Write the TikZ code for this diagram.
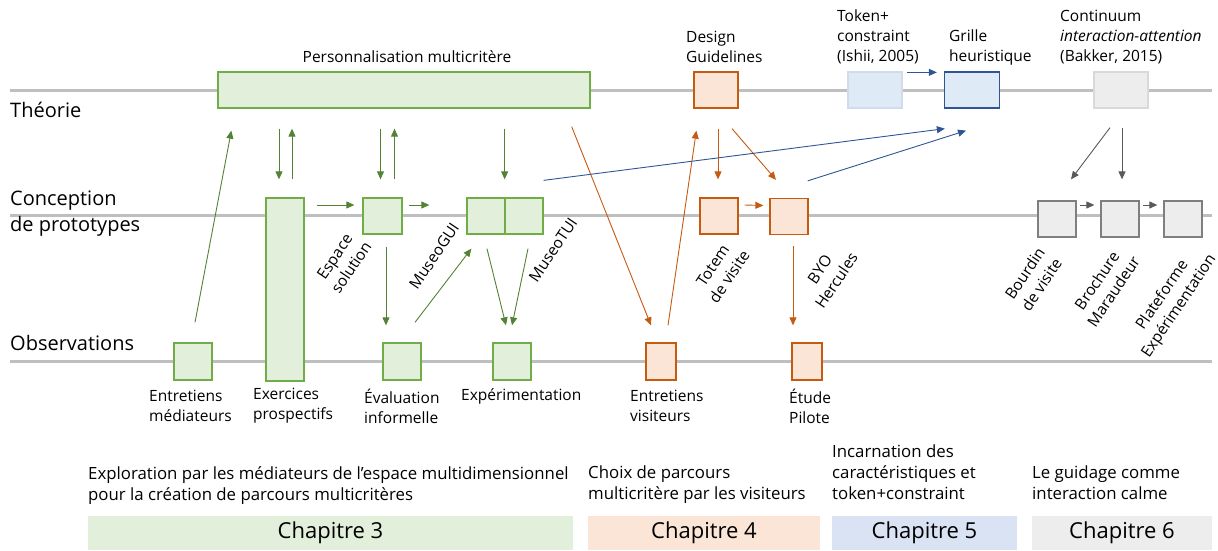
\documentclass[tikz,border=0pt]{standalone}
\usepackage{fontspec}
\setmainfont{Open Sans}
\usetikzlibrary{arrows.meta,calc}
\definecolor{lanegray}{HTML}{BFBFBF}
\definecolor{grnline}{HTML}{70AD47}
\definecolor{grnarr}{HTML}{548235}
\definecolor{grnfill}{HTML}{E2EFDA}
\definecolor{orgline}{HTML}{C55A11}
\definecolor{orgfill}{HTML}{FBE5D6}
\definecolor{bluline}{HTML}{2F5597}
\definecolor{blufill}{HTML}{DEEBF7}
\definecolor{bluchap}{HTML}{DAE3F3}
\definecolor{bluthin}{HTML}{D0DCEC}
\definecolor{gryline}{HTML}{7F7F7F}
\definecolor{gryarr}{HTML}{595959}
\definecolor{gryfill}{HTML}{EDEDED}
\definecolor{grythin}{HTML}{D9D9D9}
\tikzset{
	tbox/.style={draw, line width=1.3pt, minimum width=38pt, minimum height=36pt, inner sep=0pt},
	gbox/.style={tbox, draw=grnline, fill=grnfill},
	obox/.style={tbox, draw=orgline, fill=orgfill},
	bbox/.style={tbox, draw=bluline, fill=blufill},
	kbox/.style={tbox, draw=gryline, fill=gryfill},
	lab/.style={font=\fontsize{15.5}{20}\selectfont, inner sep=0pt, align=center},
	llab/.style={lab, align=left, anchor=west},
	rlab/.style={lab, rotate=56},
	dlab/.style={font=\fontsize{16.8}{21}\selectfont, inner sep=0pt, align=left, anchor=north west},
	lanelab/.style={font=\fontsize{20}{26}\selectfont, inner sep=0pt, align=left, anchor=west},
	chap/.style={font=\fontsize{22}{26}\selectfont, inner sep=0pt, minimum height=34pt},
	tip/.style={-{Triangle[length=8pt,width=7pt]}},
	garr/.style={tip, draw=grnarr, line width=0.9pt},
	oarr/.style={tip, draw=orgline, line width=0.9pt},
	barr/.style={tip, draw=bluline, line width=0.9pt},
	karr/.style={tip, draw=gryarr, line width=0.9pt},
}
\begin{document}
\begin{tikzpicture}[x=1pt, y=-1pt]
			%%%%% START %%%%%
			\useasboundingbox (0,0) rectangle (1218,550);
			
			% lanes
			\draw[lanegray, line width=3pt] (10,90) -- (1212,90);
			\draw[lanegray, line width=3pt] (10,215) -- (1212,215);
			\draw[lanegray, line width=3pt] (10,361) -- (1212,361);
			\node[lanelab] (lth) at (10,110) {Théorie};
			\node[lanelab] (lcp) at (10,214) {Conception\\de prototypes};
			\node[lanelab] (lob) at (10,343) {Observations};
			
			% theorie
			\node[gbox, minimum width=372pt] (pm) at (404,90) {};
			\node[lab] (lpm) at (407,57) {Personnalisation multicritère};
			\node[obox, minimum width=44pt] (dg) at (716,90) {};
			\node[llab] (ldg) at (686,47) {Design\\Guidelines};
			\node[tbox, draw=bluthin, fill=blufill, minimum width=54pt] (tc) at (875,90) {};
			\node[llab] (ltc) at (837,37) {Token+\\constraint\\(Ishii, 2005)};
			\node[bbox, minimum width=55pt] (gh) at (972,90) {};
			\node[llab] (lgh) at (949,47) {Grille\\heuristique};
			\node[tbox, draw=grythin, fill=gryfill, minimum width=54pt] (ct) at (1121,90) {};
			\node[llab] (lct) at (1060,37) {Continuum\\\textit{interaction-attention}\\(Bakker, 2015)};
			
			% conception
			\node[gbox, minimum height=183pt] (ex) at (285,289.5) {};
			\node[gbox, minimum width=39pt] (es) at (382.5,216) {};
			\node[gbox] (gui) at (486,216) {};
			\node[gbox] (tui) at (524,216) {};
			\node[obox] (tv) at (719,216) {};
			\node[obox] (byo) at (789,216.5) {};
			\node[kbox] (bv) at (1057,219) {};
			\node[kbox] (br) at (1120,219) {};
			\node[kbox] (pf) at (1183,219) {};
			\node[rlab] (les) at (343,262) {Espace\\solution};
			\node[rlab] (lgui) at (434,256) {MuseoGUI};
			\node[rlab] (ltui) at (553,250) {MuseoTUI};
			\node[rlab] (ltv) at (721,271) {Totem\\de visite};
			\node[rlab] (lbyo) at (828,275) {BYO\\Hercules};
			\node[rlab] (lbv) at (1033,279) {Bourdin\\de visite};
			\node[rlab] (lbr) at (1105,286) {Brochure\\Maraudeur};
			\node[rlab] (lpf) at (1171,301) {Plateforme\\Expérimentation};
			
			% observations
			\node[gbox, minimum height=37pt] (em) at (193,361.5) {};
			\node[gbox, minimum height=37pt] (ev) at (402,361.5) {};
			\node[gbox, minimum height=37pt] (xp) at (512,361.5) {};
			\node[obox, minimum width=30pt, minimum height=37pt] (evv) at (661,361.5) {};
			\node[obox, minimum width=30pt, minimum height=37pt] (ep) at (807,361.5) {};
			\node[llab] (lem) at (149,406) {Entretiens\\médiateurs};
			\node[llab] (lex) at (253,406) {Exercices\\prospectifs};
			\node[llab] (lev) at (364,406) {Évaluation\\informelle};
			\node[llab] (lxp) at (461,396) {Expérimentation};
			\node[llab] (levv) at (630,406) {Entretiens\\visiteurs};
			\node[llab] (lep) at (789,406) {Étude\\Pilote};
			
			% green arrows
			\draw[garr] ($(em.north)+(2,-20)$) -- ($(pm.south west)+(14,22)$);
			\draw[garr] ($(ex.north |- pm.south)+(-6,20)$) -- ($(ex.north)+(-6,-18)$);
			\draw[garr] ($(ex.north)+(7,-18)$) -- ($(ex.north |- pm.south)+(7,20)$);
			\draw[garr] ($(ex.east |- es.west)+(12,-11)$) -- ($(es.west)+(-8,-11)$);
			\draw[garr] ($(es.north |- pm.south)+(-2,20)$) -- ($(es.north)+(-2,-18)$);
			\draw[garr] ($(es.north)+(12,-18)$) -- ($(es.north |- pm.south)+(12,20)$);
			\draw[garr] ($(es.east)+(6,-11)$) -- ($(gui.west)+(-37,-11)$);
			\draw[garr] ($(gui.north east |- pm.south)+(-1,20)$) -- ($(gui.north east)+(-1,-18)$);
			\draw[garr] ($(es.south)+(3.5,12)$) -- ($(es.south |- ev.north)+(3.5,-17)$);
			\draw[garr] ($(ev.north)+(13,-20)$) -- ($(gui.south west)+(5,14)$);
			\draw[garr] ($(gui.south)+(1,14)$) -- ($(xp.north)+(-6,-17)$);
			\draw[garr] ($(tui.south)+(4,14)$) -- ($(xp.north)+(0,-17)$);
			
			% orange arrows
			\draw[oarr] ($(pm.south east)+(-19,18)$) -- ($(evv.north)+(-10,-17)$);
			\draw[oarr] ($(evv.north)+(7,-17)$) -- ($(dg.south west)+(3,22)$);
			\draw[oarr] ($(dg.south)+(2,20)$) -- ($(dg.south |- tv.north)+(2,-18)$);
			\draw[oarr] ($(dg.south)+(16,20)$) -- ($(byo.north)+(-13,-18)$);
			\draw[oarr] ($(tv.east)+(6,-11)$) -- ($(byo.west)+(-6,-11)$);
			\draw[oarr] ($(byo.south)+(4,11)$) -- ($(byo.south |- ep.north)+(4,-17)$);
			
			% blue arrows
			\draw[barr] ($(tui.north east)+(0,-17)$) -- ($(gh.south west)+(1,20)$);
			\draw[barr] ($(byo.north east)+(-1,-17)$) -- ($(gh.south)+(-6,22)$);
			\draw[barr] ($(tc.north east)+(4,1)$) -- ($(gh.north west)+(-7,1)$);
			
			% gray arrows
			\draw[karr] ($(ct.south)+(-11,19)$) -- ($(bv.north)+(14,-21)$);
			\draw[karr] ($(ct.south)+(1,19)$) -- ($(br.north)+(2,-21)$);
			\draw[karr] ($(bv.east)+(3,-14)$) -- ($(br.west)+(-6,-14)$);
			\draw[karr] ($(br.east)+(3,-14)$) -- ($(pf.west)+(-6,-14)$);
			
			% chapitres
			\node[dlab] (d3) at (88,466) {Exploration par les médiateurs de l’espace multidimensionnel\\pour la création de parcours multicritères};
			\node[dlab] (d4) at (588,466) {Choix de parcours\\multicritère par les visiteurs};
			\node[dlab] (d5) at (832,445) {Incarnation des\\caractéristiques et\\token+constraint};
			\node[dlab] (d6) at (1032,466) {Le guidage comme\\interaction calme};
			\node[chap, fill=grnfill, minimum width=485pt] (c3) at (330.5,533) {Chapitre 3};
			\node[chap, fill=orgfill, minimum width=232pt] (c4) at (704,533) {Chapitre 4};
			\node[chap, fill=bluchap, minimum width=185pt] (c5) at (924.5,533) {Chapitre 5};
			\node[chap, fill=gryfill, minimum width=180pt] (c6) at (1122,533) {Chapitre 6};
			%%%%% END %%%%%
\end{tikzpicture}
\end{document}
